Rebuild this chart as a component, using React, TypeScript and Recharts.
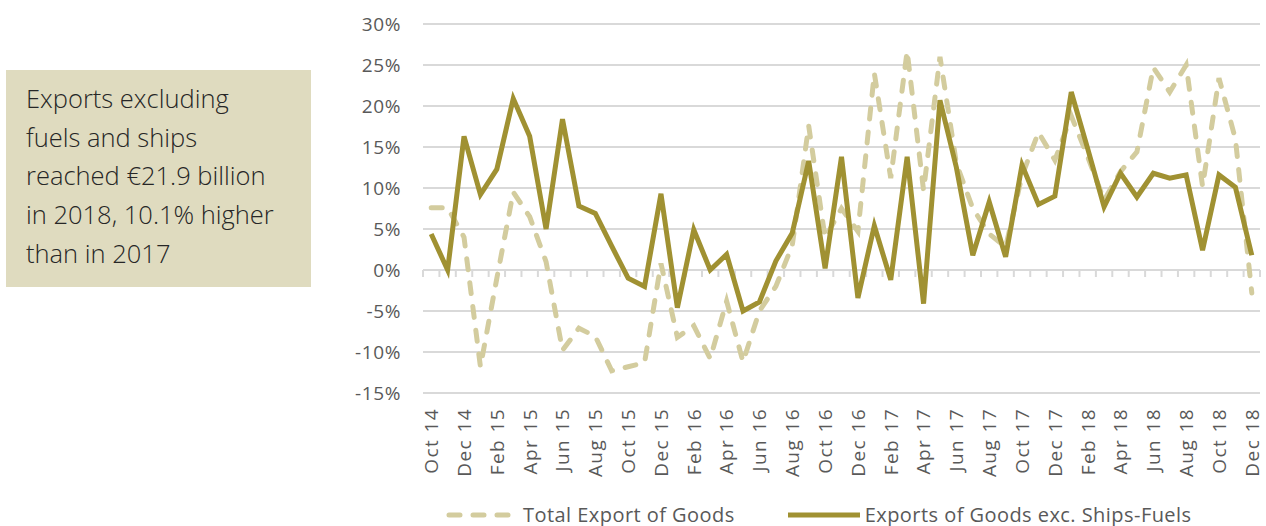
import React from "react";
import {
  LineChart,
  Line,
  XAxis,
  YAxis,
  CartesianGrid,
  Legend,
  ReferenceLine,
} from "recharts";

const months = [
  "Oct 14", "Nov 14", "Dec 14",
  "Jan 15", "Feb 15", "Mar 15", "Apr 15", "May 15", "Jun 15",
  "Jul 15", "Aug 15", "Sep 15", "Oct 15", "Nov 15", "Dec 15",
  "Jan 16", "Feb 16", "Mar 16", "Apr 16", "May 16", "Jun 16",
  "Jul 16", "Aug 16", "Sep 16", "Oct 16", "Nov 16", "Dec 16",
  "Jan 17", "Feb 17", "Mar 17", "Apr 17", "May 17", "Jun 17",
  "Jul 17", "Aug 17", "Sep 17", "Oct 17", "Nov 17", "Dec 17",
  "Jan 18", "Feb 18", "Mar 18", "Apr 18", "May 18", "Jun 18",
  "Jul 18", "Aug 18", "Sep 18", "Oct 18", "Nov 18", "Dec 18",
];

// year-on-year change, %
const totalExports = [
  7.6, 7.6, 4.0, -11.8, -1.0, 9.5, 6.5, 1.0, -9.8, -7.1,
  -8.1, -12.3, -11.8, -11.3, 0.8, -8.2, -6.8, -10.8, -3.8, -11.2,
  -5.0, -2.0, 3.0, 17.6, 3.9, 7.5, 4.7, 24.0, 11.2, 26.7,
  9.7, 26.0, 13.0, 7.5, 4.4, 2.8, 11.5, 16.8, 13.4, 18.8,
  13.8, 8.5, 12.0, 14.4, 24.7, 21.7, 25.0, 10.2, 23.4, 16.0,
  -2.8,
];

const exShipsFuels = [
  4.4, 0.0, 16.3, 9.2, 12.3, 20.9, 16.3, 5.0, 18.4, 7.8,
  6.9, 2.9, -1.0, -2.0, 9.3, -4.6, 4.9, 0.0, 1.9, -5.0,
  -3.9, 1.1, 4.5, 13.3, 0.2, 13.8, -3.4, 5.4, -1.2, 13.8,
  -4.1, 20.7, 12.5, 1.8, 8.3, 1.6, 12.8, 8.0, 9.0, 21.7,
  14.8, 7.7, 11.8, 8.9, 11.8, 11.2, 11.6, 2.4, 11.6, 10.1,
  1.8,
];

const seriesKeys = ["total", "core"];
const seriesNames = ["Total Export of Goods", "Exports of Goods exc. Ships-Fuels"];

const yTicks = [-15, -10, -5, 0, 5, 10, 15, 20, 25, 30];

const noteLines = [
  "Exports excluding",
  "fuels and ships",
  "reached €21.9 billion",
  "in 2018, 10.1% higher",
  "than in 2017",
];

const FONT = "'Open Sans', sans-serif";
const SOLID = "#a09132";
const DASHED = "#d3cc9e";
const GRID = "#d9d9d9";
const TEXT = "#595959";

const data = months.map((month, i) => ({
  month,
  total: totalExports[i],
  core: exShipsFuels[i],
}));

function MonthTick(props: any) {
  const { x, y, payload, index } = props;
  const i = payload?.index ?? index;
  if (i % 2 !== 0) return <g />;
  const ty = y + 7;
  return (
    <text
      x={x}
      y={ty}
      transform={`rotate(-90, ${x}, ${ty})`}
      textAnchor="end"
      dy="0.36em"
      fill={TEXT}
      fontSize={19}
      fontFamily={FONT}
      letterSpacing={1.4}
    >
      {payload.value}
    </text>
  );
}

// zero line with small tick marks between the months
function ZeroAxis(props: any) {
  const { x1, x2, y1 } = props;
  const n = months.length;
  const step = (x2 - x1) / n;
  return (
    <g>
      <line x1={x1} x2={x2} y1={y1} y2={y1} stroke={GRID} strokeWidth={2} />
      {Array.from({ length: n + 1 }, (_, k) => (
        <line
          key={k}
          x1={x1 + k * step}
          x2={x1 + k * step}
          y1={y1}
          y2={y1 + 7}
          stroke={GRID}
          strokeWidth={2}
        />
      ))}
    </g>
  );
}

function LegendContent(props: any) {
  const items = [...(props.payload || [])].sort(
    (a: any, b: any) => seriesKeys.indexOf(a.dataKey) - seriesKeys.indexOf(b.dataKey)
  );
  return (
    <div
      style={{
        height: 36,
        boxSizing: "border-box",
        paddingTop: 14,
        paddingLeft: 446,
        display: "flex",
        alignItems: "flex-start",
        fontFamily: FONT,
        fontSize: 20,
        letterSpacing: 0.45,
        lineHeight: "22px",
        color: TEXT,
      }}
    >
      {items.map((item: any) => {
        const dashed = item.dataKey === "total";
        return (
          <div
            key={item.value}
            style={{ display: "flex", alignItems: "center", marginRight: 53, height: 22 }}
          >
            <svg width={dashed ? 68 : 72} height={10} style={{ marginRight: dashed ? 9 : 5 }}>
              <line
                x1={dashed ? 3 : 0}
                x2={dashed ? 65 : 72}
                y1={5}
                y2={5}
                stroke={item.color}
                strokeWidth={5}
                strokeDasharray={dashed ? "11 13" : undefined}
                strokeLinecap={dashed ? "round" : "butt"}
              />
            </svg>
            <span>{item.value}</span>
          </div>
        );
      })}
    </div>
  );
}

export default function App() {
  return (
    <div
      style={{
        position: "absolute",
        left: 0,
        top: 0,
        width: 1266,
        height: 526,
        background: "#fff",
      }}
    >
      <LineChart
        width={1266}
        height={526}
        data={data}
        margin={{ top: 24, right: 6, left: 0, bottom: 0 }}
      >
        <CartesianGrid vertical={false} stroke={GRID} strokeWidth={2} />
        <XAxis
          dataKey="month"
          interval={0}
          tick={<MonthTick />}
          tickLine={false}
          axisLine={false}
          height={97}
          padding={{ left: 8.2, right: 8.2 }}
        />
        <YAxis
          domain={[-15, 30]}
          ticks={yTicks}
          tickFormatter={(v) => `${v}%`}
          axisLine={false}
          tickLine={false}
          tickMargin={16}
          width={423}
          tick={{ fill: TEXT, fontSize: 19, fontFamily: FONT, letterSpacing: 0.6 }}
        />
        <ReferenceLine y={0} shape={ZeroAxis} />
        <Legend verticalAlign="bottom" content={<LegendContent />} />
        <Line
          type="linear"
          dataKey={seriesKeys[0]}
          name={seriesNames[0]}
          stroke={DASHED}
          strokeWidth={5}
          strokeDasharray="11 13"
          strokeLinecap="round"
          dot={false}
          activeDot={false}
          isAnimationActive={false}
        />
        <Line
          type="linear"
          dataKey={seriesKeys[1]}
          name={seriesNames[1]}
          stroke={SOLID}
          strokeWidth={5}
          dot={false}
          activeDot={false}
          isAnimationActive={false}
        />
      </LineChart>
      <div
        style={{
          position: "absolute",
          left: 6,
          top: 70,
          width: 305,
          height: 217,
          boxSizing: "border-box",
          padding: "9px 0 0 20px",
          background: "#dfdbbf",
          color: "#262626",
          fontFamily: FONT,
          fontSize: 25.5,
          fontWeight: 300,
          lineHeight: "38.7px",
        }}
      >
        {noteLines.map((line) => (
          <div key={line}>{line}</div>
        ))}
      </div>
    </div>
  );
}
